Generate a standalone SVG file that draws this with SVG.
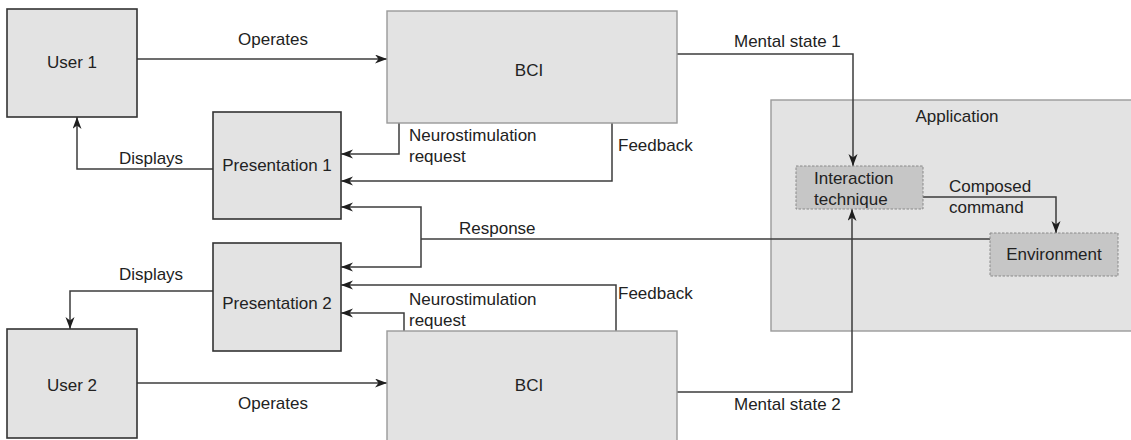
<svg xmlns="http://www.w3.org/2000/svg" width="1131" height="440" viewBox="0 0 1131 440">
<defs>
<marker id="arr" markerUnits="userSpaceOnUse" markerWidth="14" markerHeight="10" refX="12" refY="4.5" orient="auto">
<path d="M0,0 L12,4.5 L0,9 L3.5,4.5 z" fill="#1e1e1e"/>
</marker>
<style>
text{font-family:"Liberation Sans",Arial,sans-serif;font-size:17px;fill:#222}
.c{text-anchor:middle}
.box{fill:#e3e3e3;stroke:#333;stroke-width:1.6}
.bci{fill:#e3e3e3;stroke:#999;stroke-width:1.4}
.app{fill:#e3e3e3;stroke:#9a9a9a;stroke-width:1.4}
.sub{fill:#c6c6c6;stroke:#8a8a8a;stroke-width:1;stroke-dasharray:2.5 1.5}
.ln{fill:none;stroke:#3c3c3c;stroke-width:1.5}
.ar{marker-end:url(#arr)}
</style>
</defs>
<g id="application">
<rect class="app" x="771" y="100" width="370" height="231"/>
<text class="c" x="957" y="122">Application</text>
</g>
<g id="connectors">
<path class="ln ar" d="M137,59 H387"/>
<text class="c" x="273" y="45">Operates</text>
<path class="ln ar" d="M137,383 H387"/>
<text class="c" x="273" y="409">Operates</text>
<path class="ln ar" d="M213,169 H77 V117"/>
<text class="c" x="151" y="164">Displays</text>
<path class="ln ar" d="M213,291 H70 V329"/>
<text class="c" x="151" y="280">Displays</text>
<path class="ln ar" d="M399,123 V154 H341"/>
<text x="409" y="141">Neurostimulation</text>
<text x="409" y="162">request</text>
<path class="ln ar" d="M612,123 V181 H341"/>
<text x="618" y="151">Feedback</text>
<path class="ln ar" d="M404,331 V313 H341"/>
<text x="409" y="305">Neurostimulation</text>
<text x="409" y="326">request</text>
<path class="ln ar" d="M616,331 V285 H341"/>
<text x="618" y="299">Feedback</text>
<path class="ln" d="M990,239 H421"/>
<path class="ln ar" d="M421,239 V207 H341"/>
<path class="ln ar" d="M421,239 V267 H341"/>
<text x="459" y="234">Response</text>
<path class="ln ar" d="M677,54 H853 V166"/>
<text x="734" y="47">Mental state 1</text>
<path class="ln ar" d="M677,392 H852 V209"/>
<text x="734" y="410">Mental state 2</text>
<path class="ln ar" d="M923,197 H1056 V233"/>
<text x="949" y="192">Composed</text>
<text x="949" y="213">command</text>
</g>
<g id="user1">
<rect class="box" x="7" y="9" width="130" height="108"/>
<text class="c" x="72" y="68">User 1</text>
</g>
<g id="user2">
<rect class="box" x="7" y="329" width="130" height="109"/>
<text class="c" x="72" y="391">User 2</text>
</g>
<g id="bci1">
<rect class="bci" x="387" y="11" width="290" height="112"/>
<text class="c" x="529" y="76">BCI</text>
</g>
<g id="bci2">
<rect class="bci" x="387" y="331" width="290" height="115"/>
<text class="c" x="529" y="391">BCI</text>
</g>
<g id="presentation1">
<rect class="box" x="213" y="112" width="128" height="107"/>
<text class="c" x="277" y="171">Presentation 1</text>
</g>
<g id="presentation2">
<rect class="box" x="213" y="243" width="128" height="108"/>
<text class="c" x="277" y="309">Presentation 2</text>
</g>
<g id="interaction">
<rect class="sub" x="796" y="166" width="127" height="43"/>
<text x="814" y="184">Interaction</text>
<text x="814" y="205">technique</text>
</g>
<g id="environment">
<rect class="sub" x="990" y="233" width="128" height="43"/>
<text class="c" x="1054" y="260">Environment</text>
</g>
</svg>
